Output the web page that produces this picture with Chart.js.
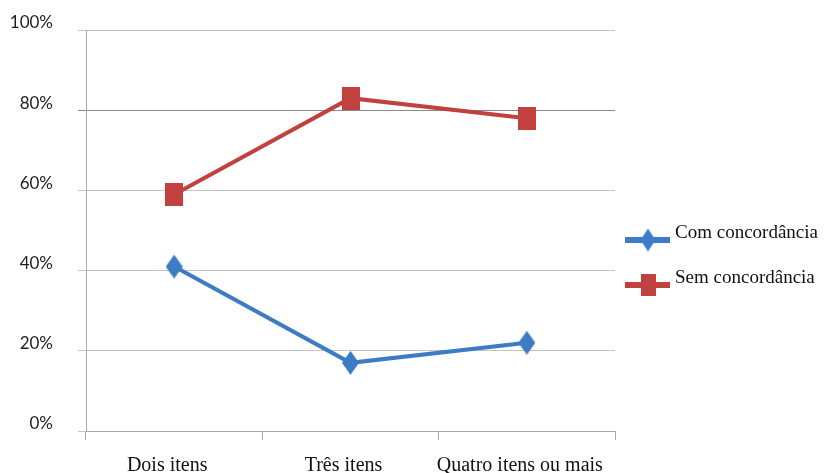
<!DOCTYPE html>
<html>
<head>
<meta charset="utf-8">
<script src="https://cdn.jsdelivr.net/npm/chart.js@4/dist/chart.umd.min.js"></script>
<style>
html,body{margin:0;padding:0;background:#fff;}
canvas{display:block;}
</style>
</head>
<body>
<canvas id="c" width="825" height="473"></canvas>
<script>
const categories = ["Dois itens", "Três itens", "Quatro itens ou mais"];
const seriesNames = ["Com concordância", "Sem concordância"];
const comConcordancia = [41, 17, 22];
const semConcordancia = [59, 83, 78];

const BLUE = '#3d7cc4';
const RED = '#c0413d';

function diamondImg(w, h, color) {
  const c = document.createElement('canvas');
  c.width = w; c.height = h;
  const g = c.getContext('2d');
  g.fillStyle = color;
  g.beginPath();
  g.moveTo(w / 2, 0); g.lineTo(w, h / 2); g.lineTo(w / 2, h); g.lineTo(0, h / 2);
  g.closePath(); g.fill();
  return c;
}
function rectImg(w, h, color) {
  const c = document.createElement('canvas');
  c.width = w; c.height = h;
  const g = c.getContext('2d');
  g.fillStyle = color;
  g.fillRect(0, 0, w, h);
  return c;
}
const blueMarker = diamondImg(17, 24, BLUE);
const redMarker = rectImg(18, 23, RED);
const blueLegendMarker = diamondImg(15, 23, BLUE);
const redLegendMarker = rectImg(15, 22, RED);

const legendPlugin = {
  id: 'customLegend',
  afterDraw(chart) {
    const ctx = chart.ctx;
    const items = [
      { y: 240, color: BLUE, img: blueLegendMarker, text: seriesNames[0] },
      { y: 285, color: RED, img: redLegendMarker, text: seriesNames[1] }
    ];
    ctx.save();
    items.forEach(it => {
      ctx.strokeStyle = it.color;
      ctx.lineWidth = 6;
      ctx.beginPath();
      ctx.moveTo(625, it.y); ctx.lineTo(670, it.y);
      ctx.stroke();
      ctx.drawImage(it.img, 648 - it.img.width / 2, it.y - it.img.height / 2);
      ctx.fillStyle = '#111';
      ctx.font = '19px "Liberation Serif", "DejaVu Serif", serif';
      ctx.textBaseline = 'middle';
      ctx.textAlign = 'left';
      ctx.fillText(it.text, 675, it.y - 7);
    });
    ctx.restore();
  }
};

new Chart(document.getElementById('c'), {
  type: 'line',
  data: {
    labels: categories,
    datasets: [
      {
        label: seriesNames[0],
        data: comConcordancia,
        borderColor: BLUE,
        backgroundColor: BLUE,
        borderWidth: 4,
        pointStyle: blueMarker,
        tension: 0
      },
      {
        label: seriesNames[1],
        data: semConcordancia,
        borderColor: RED,
        backgroundColor: RED,
        borderWidth: 4,
        pointStyle: redMarker,
        tension: 0
      }
    ]
  },
  options: {
    responsive: false,
    animation: false,
    events: [],
    layout: { padding: { left: 0, top: 30, right: 210, bottom: 0 } },
    plugins: {
      legend: { display: false },
      tooltip: { enabled: false },
      title: { display: false }
    },
    scales: {
      x: {
        type: 'category',
        offset: true,
        grid: {
          offset: true,
          drawOnChartArea: false,
          drawTicks: true,
          tickLength: 9,
          color: '#a8a8a8',
          lineWidth: 1
        },
        border: { display: true, color: '#a8a8a8', width: 1 },
        ticks: {
          color: '#111',
          font: { family: '"Liberation Serif", "DejaVu Serif", serif', size: 20 },
          padding: 14,
          labelOffset: -7,
          maxRotation: 0,
          autoSkip: false
        },
        afterFit(scale) { scale.height = 42; scale.paddingLeft = 0; scale.paddingRight = 0; }
      },
      y: {
        min: 0,
        max: 100,
        ticks: {
          stepSize: 20,
          callback: v => v + '%',
          color: '#1e1e1e',
          font: { family: 'Lato, "Open Sans", sans-serif', size: 17 },
          padding: 25,
          labelOffset: -7
        },
        grid: {
          color: ctx => (ctx.tick && ctx.tick.value === 80) ? '#8a8a8a' : '#c4c4c4',
          lineWidth: 1,
          drawTicks: true,
          tickLength: 8
        },
        border: { display: true, color: '#a8a8a8', width: 1 },
        afterFit(scale) { scale.width = 86; scale.paddingTop = 0; scale.paddingBottom = 0; }
      }
    }
  },
  plugins: [legendPlugin]
});
</script>
</body>
</html>
